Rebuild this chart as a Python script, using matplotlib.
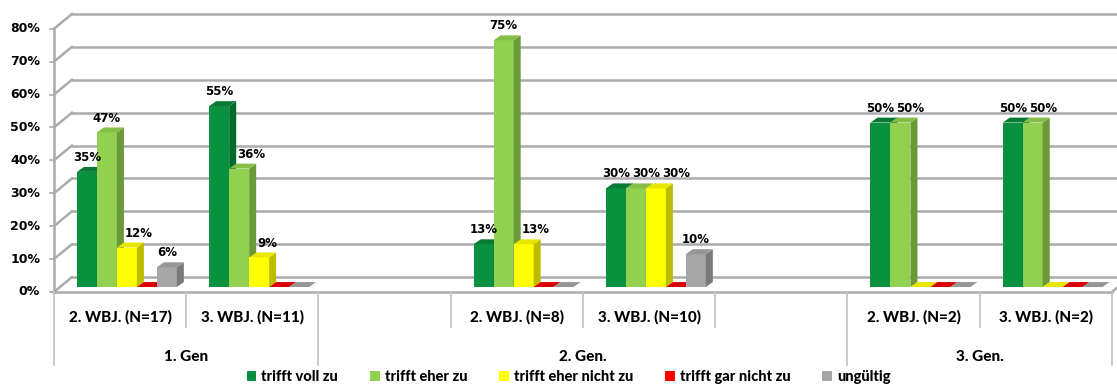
import matplotlib.pyplot as plt
from matplotlib.patches import Polygon, Patch
import numpy as np

# data (slots 2 and 5 are empty spacer slots in the original chart)
slot_labels = ["2. WBJ. (N=17)", "3. WBJ. (N=11)", "",
               "2. WBJ. (N=8)", "3. WBJ. (N=10)", "",
               "2. WBJ. (N=2)", "3. WBJ. (N=2)"]
group_labels = ["1. Gen", "2. Gen.", "3. Gen."]
group_spans = [(0, 2), (2, 6), (6, 8)]

series_names = ["trifft voll zu", "trifft eher zu", "trifft eher nicht zu",
                "trifft gar nicht zu", "ungültig"]
voll_zu = [35, 55, None, 13, 30, None, 50, 50]
eher_zu = [47, 36, None, 75, 30, None, 50, 50]
eher_nicht_zu = [12, 9, None, 13, 30, None, 0, 0]
gar_nicht_zu = [0, 0, None, 0, 0, None, 0, 0]
ungueltig = [6, 0, None, 0, 10, None, 0, 0]
series = [voll_zu, eher_zu, eher_nicht_zu, gar_nicht_zu, ungueltig]
yticks = [0, 10, 20, 30, 40, 50, 60, 70, 80]

front_colors = ["#0a9140", "#92d050", "#ffff00", "#ff0000", "#a6a6a6"]
side_colors = ["#056b2e", "#6a9a38", "#bdbd00", "#b00000", "#7a7a7a"]
top_colors = ["#087a36", "#84be46", "#e6e600", "#d80000", "#969696"]

# geometry in data units (x: slots, y: percent)
bw = 0.151          # bar width
first = 0.174       # offset of first bar in slot
base = 1.5          # bars stand a bit behind the front edge
bdx, bdy = 0.053, 1.5
wdx, wdy = 0.136, 4.5
xend = 8.0

fig = plt.figure(figsize=(11.17, 3.87), dpi=100)
ax = fig.add_axes([0, 0, 1, 1])
ax.set_xlim(-0.408, 8.038)
ax.set_ylim(-28.9, 88.75)
ax.axis("off")

lab_font = {"family": "Lato", "weight": "black"}

grid_c = "#ababab"
# walls / gridlines
for v in yticks:
    ax.plot([0, wdx], [v, v + wdy], color=grid_c, lw=1.8, zorder=1)
    ax.plot([wdx, 8.1], [v + wdy, v + wdy], color=grid_c, lw=1.8, zorder=1)
    ax.plot([-0.03, 0], [v, v], color=grid_c, lw=1.2, zorder=1)
    ax.text(-0.105, v, f"{v}%", ha="right", va="center", fontsize=9,
            fontweight="bold", family="DejaVu Sans")
ax.plot([0, 0], [0, yticks[-1]], color=grid_c, lw=1.8, zorder=1)
ax.plot([0, xend], [0, 0], color=grid_c, lw=1.8, zorder=1)
ax.plot([xend, xend + wdx], [0, wdy], color=grid_c, lw=1.8, zorder=1)

renderer = fig.canvas.get_renderer()
px = 1 / 132.25  # one pixel in slot units

# 3d-ish bars
for i in range(len(slot_labels)):
    prev_lab = None  # (right edge, bottom, top) of previous label in slot
    for k, vals in enumerate(series):
        v = vals[i]
        if v is None:
            continue
        x0 = i + first + k * bw
        z = 3 + k
        top = base + v
        if v > 0:
            ax.bar(x0, v, width=bw, bottom=base, align="edge",
                   color=front_colors[k], linewidth=0, zorder=z)
            ax.add_patch(Polygon([(x0 + bw, base), (x0 + bw + bdx, base + bdy),
                                  (x0 + bw + bdx, top + bdy), (x0 + bw, top)],
                                 closed=True, color=side_colors[k], lw=0, zorder=z))
            ty = top + 2.4
            t = ax.text(x0 + bw / 2, ty, f"{v}%", ha="left", va="bottom",
                        fontsize=8.5, fontweight="bold", family="DejaVu Sans",
                        zorder=10)
            w = t.get_window_extent(renderer).width * px
            left = x0 + bw / 2 - w / 2
            # keep clear of a taller bar on the left
            if k > 0:
                pv = series[k - 1][i]
                if pv is not None and base + pv + bdy > ty:
                    left = max(left, x0 + bdx + px)
            # keep clear of the previous label
            if prev_lab is not None and prev_lab[1] < ty + 3.5 and prev_lab[2] > ty:
                left = max(left, prev_lab[0] + 2 * px)
            t.set_x(left)
            prev_lab = (left + w, ty, ty + 3.5)
        ax.add_patch(Polygon([(x0, top), (x0 + bw, top), (x0 + bw + bdx, top + bdy),
                              (x0 + bdx, top + bdy)],
                             closed=True, color=top_colors[k], lw=0, zorder=z))

# category table
tab_c = "#c0c0c0"
group_edges = {s for span in group_spans for s in span}
for b in range(len(slot_labels) + 1):
    y_low = -22.2 if b in group_edges else -10.6
    ax.plot([b, b], [0, y_low], color=tab_c, lw=1.2, zorder=1)
for i, lab in enumerate(slot_labels):
    if lab:
        ax.text(i + 0.5, -7.6, lab, ha="center", va="center", fontsize=11,
                **lab_font)
for lab, (a, b) in zip(group_labels, group_spans):
    ax.text((a + b) / 2, -19.8, lab, ha="center", va="center", fontsize=11,
            **lab_font)

handles = [Patch(facecolor=c, edgecolor="none") for c in front_colors]
ax.legend(handles, series_names, loc="center", bbox_to_anchor=(0.509, 0.025),
          bbox_transform=fig.transFigure, ncol=5, frameon=False,
          handlelength=0.65, handleheight=0.65, handletextpad=0.35,
          columnspacing=2.2, prop={**lab_font, "size": 10.5})

fig.savefig("out.png", dpi=100)
